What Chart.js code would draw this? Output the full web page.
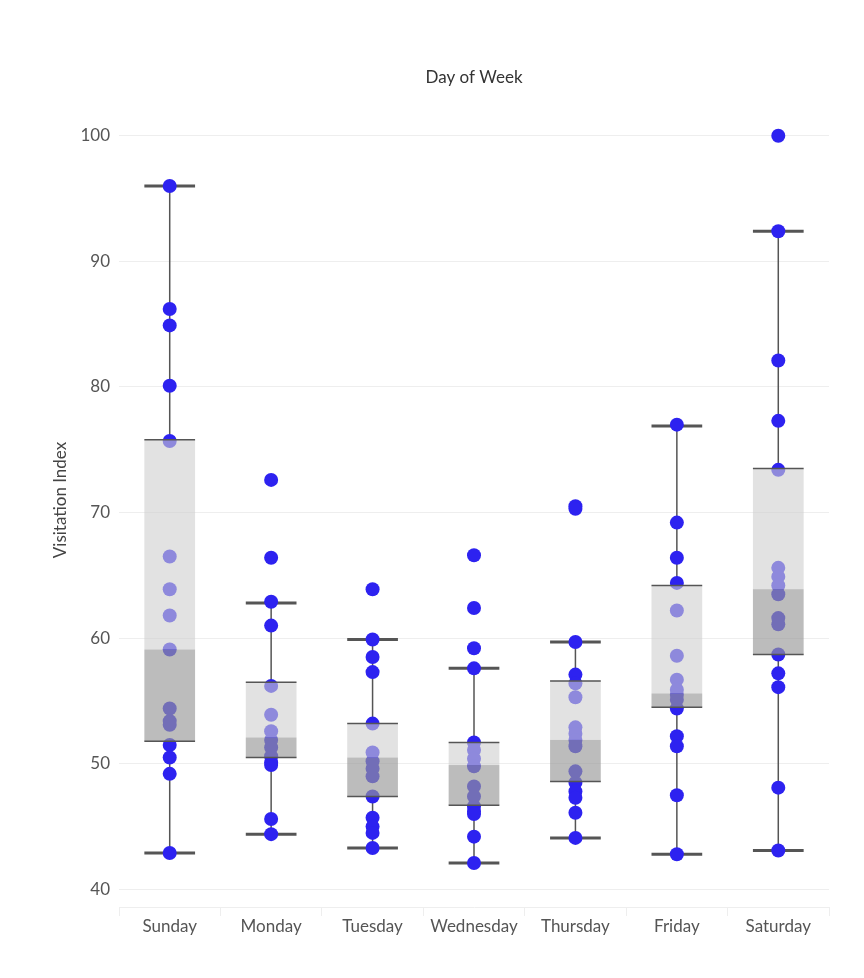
<!DOCTYPE html>
<html><head><meta charset="utf-8">
<script src="https://cdn.jsdelivr.net/npm/chart.js@4/dist/chart.umd.min.js"></script>
<style>html,body{margin:0;padding:0;background:#fff}#wrap{width:864px;height:978px;position:relative}</style>
</head><body><div id="wrap"><canvas id="c"></canvas></div>
<script>
const days = ['Sunday','Monday','Tuesday','Wednesday','Thursday','Friday','Saturday'];
const yTickValues = [40, 50, 60, 70, 80, 90, 100];

// observed visitation index values per day
const sunday    = [96.0, 86.2, 84.9, 80.1, 75.7, 66.5, 63.9, 61.8, 59.1, 54.4, 53.4, 53.1, 51.5, 50.5, 49.2, 42.9];
const monday    = [72.6, 66.4, 62.9, 61.0, 56.2, 53.9, 52.6, 51.9, 51.3, 50.6, 50.1, 49.9, 45.6, 44.4];
const tuesday   = [63.9, 59.9, 58.5, 57.3, 53.2, 50.9, 50.2, 49.6, 49.0, 47.4, 45.7, 45.0, 44.5, 43.3];
const wednesday = [66.6, 62.4, 59.2, 57.6, 51.7, 51.1, 50.4, 49.8, 48.2, 47.4, 46.6, 46.2, 46.0, 44.2, 42.1];
const thursday  = [70.5, 70.3, 59.7, 57.1, 56.4, 55.3, 52.9, 52.4, 51.9, 51.4, 49.4, 48.5, 47.8, 47.3, 46.1, 44.1];
const friday    = [77.0, 69.2, 66.4, 64.4, 62.2, 58.6, 56.7, 55.9, 55.5, 55.1, 54.4, 52.2, 51.4, 47.5, 42.8];
const saturday  = [100.0, 92.4, 82.1, 77.3, 73.4, 65.6, 64.9, 64.2, 63.5, 61.6, 61.1, 58.7, 57.2, 56.1, 48.1, 43.1];
const dayValues = [sunday, monday, tuesday, wednesday, thursday, friday, saturday];

// box statistics
const whiskerLow  = [42.9, 44.4, 43.3, 42.1, 44.1, 42.8, 43.1];
const q1          = [51.8, 50.5, 47.4, 46.7, 48.6, 54.5, 58.7];
const medians     = [59.1, 52.1, 50.5, 49.9, 51.9, 55.6, 63.9];
const q3          = [75.8, 56.5, 53.2, 51.7, 56.6, 64.2, 73.5];
const whiskerHigh = [96.0, 62.8, 59.9, 57.6, 59.7, 76.9, 92.4];

const points = [];
dayValues.forEach((vals, i) => vals.forEach(v => points.push({x: days[i], y: v})));

const boxPlugin = {
  id: 'boxes',
  beforeDatasetsDraw(chart) {
    const {ctx, scales: {x, y}} = chart;
    const half = (x.width / days.length) * 0.25;
    ctx.save();
    ctx.strokeStyle = '#555';
    days.forEach((d, i) => {
      const cx = x.getPixelForValue(i);
      ctx.lineWidth = 1.5;
      ctx.beginPath();
      ctx.moveTo(cx, y.getPixelForValue(whiskerHigh[i]));
      ctx.lineTo(cx, y.getPixelForValue(q3[i]));
      ctx.moveTo(cx, y.getPixelForValue(q1[i]));
      ctx.lineTo(cx, y.getPixelForValue(whiskerLow[i]));
      ctx.stroke();
      ctx.lineWidth = 3;
      ctx.beginPath();
      [whiskerHigh[i], whiskerLow[i]].forEach(v => {
        const py = y.getPixelForValue(v);
        ctx.moveTo(cx - half, py);
        ctx.lineTo(cx + half, py);
      });
      ctx.stroke();
    });
    ctx.restore();
  },
  afterDatasetsDraw(chart) {
    const {ctx, scales: {x, y}} = chart;
    const half = (x.width / days.length) * 0.25;
    ctx.save();
    days.forEach((d, i) => {
      const cx = x.getPixelForValue(i);
      const yq3 = y.getPixelForValue(q3[i]);
      const ym = y.getPixelForValue(medians[i]);
      const yq1 = y.getPixelForValue(q1[i]);
      ctx.fillStyle = 'rgba(206,206,206,0.6)';
      ctx.fillRect(cx - half, yq3, half * 2, ym - yq3);
      ctx.fillStyle = 'rgba(152,152,152,0.65)';
      ctx.fillRect(cx - half, ym, half * 2, yq1 - ym);
      ctx.strokeStyle = '#555';
      ctx.lineWidth = 1.5;
      ctx.beginPath();
      ctx.moveTo(cx - half, yq3); ctx.lineTo(cx + half, yq3);
      ctx.moveTo(cx - half, yq1); ctx.lineTo(cx + half, yq1);
      ctx.stroke();
    });
    ctx.restore();
  }
};

const FONT = 'Lato, "Source Sans Pro", "Open Sans", sans-serif';

new Chart(document.getElementById('c'), {
  type: 'scatter',
  data: {
    labels: days,
    datasets: [{
      data: points,
      pointRadius: 7,
      pointHoverRadius: 7,
      pointBackgroundColor: '#2d22f0',
      pointBorderWidth: 0
    }]
  },
  options: {
    responsive: true,
    maintainAspectRatio: false,
    animation: false,
    layout: {padding: {left: 0, right: 35, top: 61, bottom: 0}},
    plugins: {legend: {display: false}, tooltip: {enabled: false}},
    scales: {
      x: {
        type: 'category',
        labels: days,
        position: 'bottom',
        offset: true,
        grid: {offset: true, drawOnChartArea: false, color: '#eeeeee', tickLength: 9},
        border: {display: true, color: '#eeeeee'},
        ticks: {color: '#555', font: {family: FONT, size: 17}, padding: 0, maxRotation: 0},
        afterFit(s) { s.height = 71; }
      },
      x2: {
        type: 'category',
        labels: days,
        position: 'top',
        grid: {display: false, drawTicks: false},
        border: {display: false},
        ticks: {display: false},
        title: {display: true, text: 'Day of Week', color: '#333', font: {family: FONT, size: 17}, padding: {top: 6, bottom: 0}},
        afterFit(s) { s.height = 32; }
      },
      y: {
        type: 'linear',
        min: 38.6,
        max: 103.4,
        afterBuildTicks(s) { s.ticks = yTickValues.map(v => ({value: v})); },
        grid: {color: '#eeeeee', drawTicks: false},
        border: {display: false},
        ticks: {color: '#555', font: {family: FONT, size: 17}, padding: 9},
        title: {display: true, text: 'Visitation Index', color: '#444', font: {family: FONT, size: 17}, padding: {top: 50, bottom: 0}},
        afterFit(s) { s.width = 119; }
      }
    }
  },
  plugins: [boxPlugin]
});
</script>
</body></html>
